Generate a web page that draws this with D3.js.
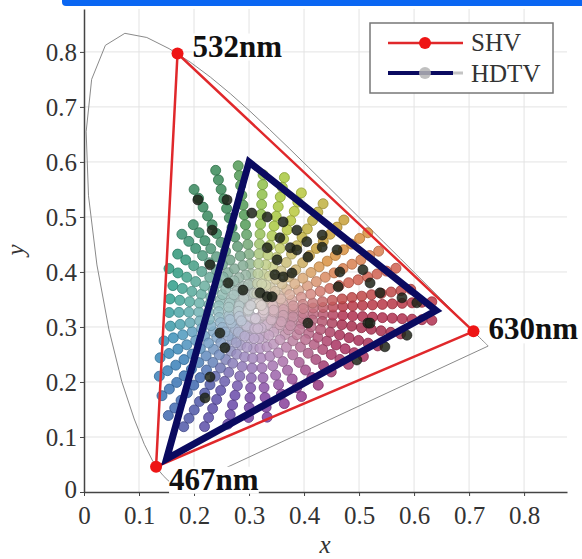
<!DOCTYPE html>
<html>
<head>
<meta charset="utf-8">
<script src="https://cdn.jsdelivr.net/npm/d3@7"></script>
<style>
  body { margin: 0; background: #fff; }
  text { font-family: "Liberation Serif", "Times New Roman", serif; }
</style>
</head>
<body>
<div id="chart"></div>
<script>
// CIE 1931 spectral locus (380-700 nm)
var locusX = [0.1741,0.1740,0.1738,0.1736,0.1733,0.1730,0.1726,0.1721,0.1714,0.1703,0.1689,0.1669,0.1644,0.1611,0.1566,0.1510,0.1440,0.1355,0.1241,0.1096,0.0913,0.0687,0.0454,0.0235,0.0082,0.0039,0.0139,0.0389,0.0743,0.1142,0.1547,0.1929,0.2296,0.2658,0.3016,0.3373,0.3731,0.4087,0.4441,0.4788,0.5125,0.5448,0.5752,0.6029,0.6270,0.6482,0.6658,0.6801,0.6915,0.7006,0.7079,0.7140,0.7190,0.7230,0.7260,0.7283,0.7300,0.7311,0.7320,0.7334,0.7344,0.7347];
var locusY = [0.0050,0.0050,0.0049,0.0049,0.0048,0.0048,0.0048,0.0048,0.0051,0.0058,0.0069,0.0086,0.0109,0.0138,0.0177,0.0227,0.0297,0.0399,0.0578,0.0868,0.1327,0.2007,0.2950,0.4127,0.5384,0.6548,0.7502,0.8120,0.8338,0.8262,0.8059,0.7816,0.7543,0.7243,0.6923,0.6589,0.6245,0.5896,0.5547,0.5202,0.4866,0.4544,0.4242,0.3965,0.3725,0.3514,0.3340,0.3197,0.3083,0.2993,0.2920,0.2859,0.2809,0.2770,0.2740,0.2717,0.2700,0.2689,0.2680,0.2666,0.2656,0.2653];

// gamut primaries (R, G, B)
var shvX = [0.708, 0.170, 0.131], shvY = [0.292, 0.797, 0.046];
var hdtvX = [0.640, 0.300, 0.150], hdtvY = [0.330, 0.600, 0.060];
var shvLabels = ["630nm", "532nm", "467nm"];

var tickVals = [0, 0.1, 0.2, 0.3, 0.4, 0.5, 0.6, 0.7, 0.8];
var tickLabels = ["0", "0.1", "0.2", "0.3", "0.4", "0.5", "0.6", "0.7", "0.8"];

// test colour samples: hue spokes around the white point
var whitePoint = [0.3127, 0.329];
var spokeAngles = [97, 106, 117, 126, 134, 144, 154, 163, 172, 181, 190, 198, 206, 214, 222, 230, 238, 246, 256, 266, 276, 287, 298, 310, 321, 330, 337, 344, 351, 357, 3, 8, 17, 26, 35, 46, 58, 69, 78, 87];
var spokeReach = [0.27, 0.283, 0.256, 0.2, 0.21, 0.18, 0.19, 0.17, 0.17, 0.165, 0.17, 0.19, 0.2, 0.22, 0.24, 0.26, 0.25, 0.24, 0.225, 0.21, 0.2, 0.185, 0.18, 0.18, 0.187, 0.2, 0.218, 0.238, 0.28, 0.33, 0.32, 0.29, 0.27, 0.25, 0.25, 0.24, 0.24, 0.245, 0.25, 0.265];
var spokeColors = ["#529a56","#3a8a58","#38885e","#388c66","#389070","#2f9678","#2e9a80","#2e9c88","#30a090","#38a0a0","#3a9aa8","#3a90b8","#3a88b8","#3a80b8","#3b74b4","#4068b0","#5058a8","#5c4ea8","#6848a8","#7444a4","#8040a0","#88409a","#903c90","#983880","#a03870","#a83868","#a83060","#a83058","#a83050","#b03050","#b83848","#c04848","#d06050","#d88050","#d89040","#c8a038","#c0b040","#b8c840","#a8c840","#8fbf4a"];
var ringSteps = [0.014, 0.032, 0.05, 0.068, 0.086, 0.104, 0.122, 0.14, 0.158, 0.176, 0.194, 0.212, 0.23, 0.248, 0.266, 0.284, 0.302, 0.32, 0.338];
var darkDotX = [0.362,0.387,0.375,0.351,0.347,0.362,0.405,0.433,0.433,0.460,0.407,0.465,0.462,0.507,0.520,0.538,0.305,0.333,0.356,0.333,0.378,0.387,0.289,0.320,0.333,0.342,0.247,0.256,0.229,0.220,0.407,0.516,0.547,0.587,0.496,0.520,0.578,0.605,0.260,0.233,0.229,0.207,0.262];
var darkDotY = [0.491,0.476,0.444,0.422,0.395,0.391,0.455,0.467,0.445,0.440,0.427,0.400,0.373,0.404,0.380,0.362,0.507,0.500,0.462,0.444,0.398,0.440,0.367,0.362,0.355,0.355,0.289,0.262,0.209,0.171,0.307,0.307,0.264,0.285,0.240,0.307,0.353,0.344,0.531,0.476,0.413,0.531,0.380];

var width = 582, height = 559;
var svg = d3.select("#chart").append("svg")
    .attr("width", width)
    .attr("height", height);

// blue strip at the top of the capture
svg.append("rect")
    .attr("x", 62).attr("y", -4)
    .attr("width", 540).attr("height", 10)
    .attr("rx", 4)
    .style("fill", "#0a66f2");

var x = d3.scaleLinear().domain([0, 0.878]).range([84, 567]);
var y = d3.scaleLinear().domain([0, 0.878]).range([492, 9]);

// grid
var grid = svg.append("g");
grid.selectAll(".gx").data(tickVals.slice(1)).enter().append("line")
    .attr("x1", function(d){ return x(d); }).attr("x2", function(d){ return x(d); })
    .attr("y1", y(0)).attr("y2", y(0.878))
    .style("stroke", "#e3e3e3").style("stroke-width", 1);
grid.selectAll(".gy").data(tickVals.slice(1)).enter().append("line")
    .attr("x1", x(0)).attr("x2", x(0.878))
    .attr("y1", function(d){ return y(d); }).attr("y2", function(d){ return y(d); })
    .style("stroke", "#e3e3e3").style("stroke-width", 1);

// spectral locus, closed by the purple line
var locus = locusX.map(function(d, i){ return [d, locusY[i]]; });
svg.append("path")
    .datum(locus)
    .attr("d", d3.line().x(function(d){ return x(d[0]); }).y(function(d){ return y(d[1]); }).curve(d3.curveLinearClosed))
    .style("fill", "none")
    .style("stroke", "#8a8a8a")
    .style("stroke-width", 1);

// colour samples
var samples = [];
spokeAngles.forEach(function(a, i){
    var rad = a * Math.PI / 180;
    ringSteps.forEach(function(r){
        if (r > spokeReach[i]) return;
        var t = Math.min(1, r / 0.16);
        samples.push({
            x: whitePoint[0] + r * Math.cos(rad),
            y: whitePoint[1] + r * Math.sin(rad),
            c: d3.interpolateRgb("#ddd6dc", spokeColors[i])(t)
        });
    });
});
// draw inner rings last so the pale centre sits on top
samples.sort(function(a, b){
    var da = Math.hypot(a.x - whitePoint[0], a.y - whitePoint[1]);
    var db = Math.hypot(b.x - whitePoint[0], b.y - whitePoint[1]);
    return db - da;
});
svg.append("g").selectAll("circle").data(samples).enter().append("circle")
    .attr("cx", function(d){ return x(d.x); })
    .attr("cy", function(d){ return y(d.y); })
    .attr("r", 5)
    .style("fill", function(d){ return d.c; })
    .style("fill-opacity", 0.85)
    .style("stroke", function(d){ return d3.color(d.c).darker(0.6); })
    .style("stroke-width", 0.8);

svg.append("g").selectAll("circle").data(darkDotX).enter().append("circle")
    .attr("cx", function(d){ return x(d); })
    .attr("cy", function(d, i){ return y(darkDotY[i]); })
    .attr("r", 5)
    .style("fill", "#1f2419")
    .style("fill-opacity", 0.85)
    .style("stroke", "#111")
    .style("stroke-width", 0.6);

// axes
var xAxis = svg.append("g")
    .attr("transform", "translate(0," + y(0) + ")")
    .call(d3.axisBottom(x).tickValues(tickVals).tickFormat(function(d, i){ return tickLabels[i]; }).tickSize(4).tickSizeOuter(0));
var yAxis = svg.append("g")
    .attr("transform", "translate(" + x(0) + ",0)")
    .call(d3.axisLeft(y).tickValues(tickVals).tickFormat(function(d, i){ return tickLabels[i]; }).tickSize(4).tickSizeOuter(0));
[xAxis, yAxis].forEach(function(ax){
    ax.select(".domain").style("stroke", "#444").style("stroke-width", 1.5);
    ax.selectAll(".tick line").style("stroke", "#444");
    ax.selectAll("text")
        .style("font-family", "'Liberation Serif', 'Times New Roman', serif")
        .style("font-size", "25px")
        .style("fill", "#333");
});
xAxis.selectAll("text").attr("dy", "0.95em").attr("y", 8);
yAxis.selectAll("text").attr("x", -7).attr("dy", "0.34em");
// the y axis 0 sits lower in the original
yAxis.selectAll(".tick").filter(function(d){ return d === 0; }).select("text").attr("dy", "0.2em");

svg.append("text")
    .attr("x", 325).attr("y", 553)
    .attr("text-anchor", "middle")
    .style("font-size", "25px").style("font-style", "italic").style("fill", "#333")
    .text("x");
svg.append("text")
    .attr("transform", "translate(24,250) rotate(-90)")
    .attr("text-anchor", "middle")
    .style("font-size", "25px").style("font-style", "italic").style("fill", "#333")
    .text("y");

// SHV gamut
var shv = shvX.map(function(d, i){ return [d, shvY[i]]; });
svg.append("path")
    .datum(shv)
    .attr("d", d3.line().x(function(d){ return x(d[0]); }).y(function(d){ return y(d[1]); }).curve(d3.curveLinearClosed))
    .style("fill", "none")
    .style("stroke", "#e0282b")
    .style("stroke-width", 2.5);

// HDTV gamut
var hdtv = hdtvX.map(function(d, i){ return [d, hdtvY[i]]; });
svg.append("path")
    .datum(hdtv)
    .attr("d", d3.line().x(function(d){ return x(d[0]); }).y(function(d){ return y(d[1]); }).curve(d3.curveLinearClosed))
    .style("fill", "none")
    .style("stroke", "#0a0a60")
    .style("stroke-width", 7)
    .style("stroke-linejoin", "miter");

svg.append("g").selectAll("circle").data(shv).enter().append("circle")
    .attr("cx", function(d){ return x(d[0]); })
    .attr("cy", function(d){ return y(d[1]); })
    .attr("r", 6)
    .style("fill", "#ee1515");

// wavelength labels
var labelOffsets = [[15, 8], [15, 3], [13, 23]];
var labels = svg.append("g");
shv.forEach(function(d, i){
    var g = labels.append("g");
    var bg = g.append("rect").style("fill", "#fff");
    var t = g.append("text")
        .attr("x", x(d[0]) + labelOffsets[i][0])
        .attr("y", y(d[1]) + labelOffsets[i][1])
        .style("font-size", "31px")
        .style("font-weight", "bold")
        .style("fill", "#111")
        .text(shvLabels[i]);
    var b = t.node().getBBox();
    bg.attr("x", b.x).attr("y", b.y + 5).attr("width", b.width).attr("height", b.height - 8);
});

// legend
var legend = svg.append("g");
legend.append("rect")
    .attr("x", 370).attr("y", 23).attr("width", 183).attr("height", 70)
    .style("fill", "#fff").style("stroke", "#777").style("stroke-width", 1.5);
legend.append("line")
    .attr("x1", 388).attr("x2", 463).attr("y1", 43).attr("y2", 43)
    .style("stroke", "#e0282b").style("stroke-width", 2.5);
legend.append("circle")
    .attr("cx", 425).attr("cy", 43).attr("r", 6)
    .style("fill", "#ee1515");
legend.append("text")
    .attr("x", 471).attr("y", 51)
    .style("font-size", "25px").style("fill", "#333")
    .text("SHV");
legend.append("line")
    .attr("x1", 388).attr("x2", 463).attr("y1", 73).attr("y2", 73)
    .style("stroke", "#c4c4c4").style("stroke-width", 3);
legend.append("line")
    .attr("x1", 388).attr("x2", 453).attr("y1", 73).attr("y2", 73)
    .style("stroke", "#0a0a60").style("stroke-width", 4);
legend.append("circle")
    .attr("cx", 425).attr("cy", 73).attr("r", 6)
    .style("fill", "#b5b5b5").style("fill-opacity", 0.85);
legend.append("text")
    .attr("x", 471).attr("y", 82)
    .style("font-size", "25px").style("fill", "#333")
    .text("HDTV");
</script>
</body>
</html>
